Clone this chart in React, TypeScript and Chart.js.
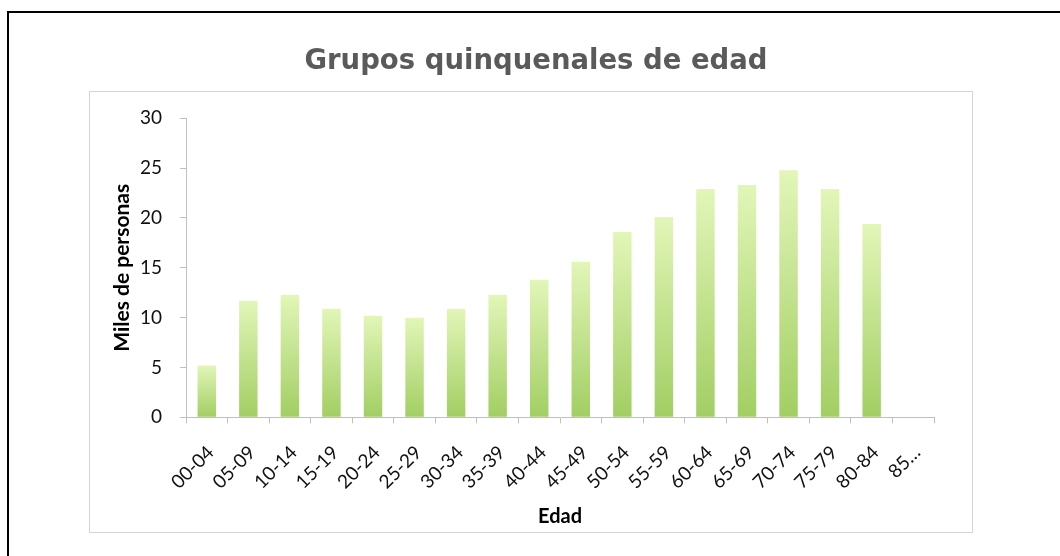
import React, { useEffect, useRef } from 'react';
import { Chart, registerables } from 'chart.js';

Chart.register(...registerables);

const CATEGORIES: string[] = ['00-04', '05-09', '10-14', '15-19', '20-24', '25-29', '30-34', '35-39', '40-44', '45-49', '50-54', '55-59', '60-64', '65-69', '70-74', '75-79', '80-84', '85…'];
const VALUES: (number | null)[] = [5.2, 11.7, 12.3, 10.9, 10.2, 10.0, 10.9, 12.3, 13.8, 15.6, 18.6, 20.1, 22.9, 23.3, 24.8, 22.9, 19.4, null];
const Y_MIN = 0;
const Y_MAX = 30;
const Y_STEP = 5;
const TITLE = 'Grupos quinquenales de edad';
const Y_TITLE = 'Miles de personas';
const X_TITLE = 'Edad';

const AXIS_GRAY = '#bfbfbf';

export default function App() {
  const canvasRef = useRef<HTMLCanvasElement | null>(null);

  useEffect(() => {
    const canvas = canvasRef.current;
    if (!canvas) return;
    const chart = new Chart(canvas, {
      type: 'bar',
      data: {
        labels: CATEGORIES,
        datasets: [
          {
            data: VALUES,
            categoryPercentage: 1,
            barPercentage: 0.444,
            borderWidth: 0,
            backgroundColor: (ctx: any) => {
              const c = ctx.chart;
              const area = c.chartArea;
              if (!area || ctx.type !== 'data' || ctx.parsed == null) return '#c2e38f';
              const ys = c.scales.y;
              const top = ys.getPixelForValue(ctx.parsed.y);
              const base = ys.getPixelForValue(0);
              if (!isFinite(top) || !isFinite(base) || top === base) return '#c2e38f';
              const g = c.ctx.createLinearGradient(0, top, 0, base);
              g.addColorStop(0, '#e2f6b8');
              g.addColorStop(1, '#a2ce63');
              return g;
            },
          },
        ],
      },
      options: {
        responsive: false,
        animation: false,
        layout: { padding: { left: 138, right: 126, top: 0, bottom: 0 } },
        plugins: {
          legend: { display: false },
          tooltip: { enabled: false },
          title: {
            display: true,
            text: TITLE,
            color: '#5a5a5a',
            font: { family: '"DejaVu Sans", sans-serif', size: 27.5, weight: 'bold', lineHeight: 1.2 },
            padding: { top: 45.5, bottom: 39.8 },
          },
        },
        scales: {
          x: {
            offset: true,
            afterFit: (scale: any) => {
              scale.height = 138.7;
            },
            grid: {
              display: true,
              offset: true,
              drawOnChartArea: false,
              drawTicks: true,
              tickLength: 6,
              color: AXIS_GRAY,
            },
            border: { display: true, color: AXIS_GRAY, width: 1 },
            ticks: {
              autoSkip: false,
              minRotation: 45,
              maxRotation: 45,
              padding: 18,
              labelOffset: 4,
              color: '#111',
              font: { family: 'Lato, sans-serif', size: 19 },
            },
            title: {
              display: true,
              text: X_TITLE,
              color: '#000',
              font: { family: 'Lato, sans-serif', size: 20, weight: 'bold', lineHeight: 1.2 },
              padding: { top: 0, bottom: 27 },
            },
          },
          y: {
            min: Y_MIN,
            max: Y_MAX,
            afterFit: (scale: any) => {
              scale.width = 48;
            },
            grid: {
              display: true,
              drawOnChartArea: false,
              drawTicks: true,
              tickLength: 6,
              color: AXIS_GRAY,
            },
            border: { display: true, color: AXIS_GRAY, width: 1 },
            ticks: {
              stepSize: Y_STEP,
              padding: 18,
              color: '#111',
              font: { family: 'Lato, sans-serif', size: 19 },
            },
            title: {
              display: true,
              text: Y_TITLE,
              color: '#000',
              font: { family: 'Lato, sans-serif', size: 21, weight: 'bold', lineHeight: 1.2 },
              padding: { top: -28.5, bottom: 0 },
            },
          },
        },
      },
    } as any);
    return () => chart.destroy();
  }, []);

  return (
    <div style={{ position: 'absolute', left: 0, top: 0, width: 1060, height: 556, overflow: 'hidden', background: '#fff' }}>
      <div
        style={{
          position: 'absolute',
          left: 7,
          top: 11,
          width: 1200,
          height: 700,
          borderLeft: '2px solid #000',
          borderTop: '2px solid #000',
        }}
      />
      <div
        style={{
          position: 'absolute',
          left: 89,
          top: 91,
          width: 884,
          height: 442,
          boxSizing: 'border-box',
          border: '1px solid #d4d4d4',
        }}
      />
      <canvas
        ref={canvasRef}
        width={1060}
        height={556}
        style={{ position: 'absolute', left: 0, top: 0, width: 1060, height: 556, display: 'block' }}
      />
    </div>
  );
}
